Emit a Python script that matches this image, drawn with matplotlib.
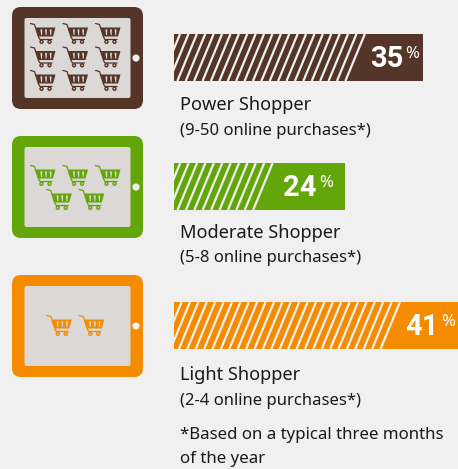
import matplotlib
matplotlib.use("Agg")
import matplotlib.pyplot as plt
from matplotlib.patches import FancyBboxPatch, Circle, Polygon

# data
names = ["Power Shopper", "Moderate Shopper", "Light Shopper"]
ranges = ["(9-50 online purchases*)", "(5-8 online purchases*)", "(2-4 online purchases*)"]
shares = [35, 24, 41]
cart_rows = [[3, 3, 3], [3, 2], [2]]
note = ["*Based on a typical three months", "of the year"]

colors = ["#543527", "#63A60A", "#F58B00"]
bg = "#F0F0F0"
screen = "#DBD8D5"
font = "Noto Sans"
bold_font = "Roboto"

fig = plt.figure(figsize=(4.58, 4.69), dpi=100, facecolor=bg)
ax = fig.add_axes([0, 0, 1, 1])
ax.set_xlim(0, 458)
ax.set_ylim(469, 0)
ax.axis("off")

bar_left = 174
px_per_pct = 7.11
bar_tops = [34, 163, 302]
bar_h = 47
solid_w = [58, 72, 65.5]
num_right = [403, 317, 439]
tablet_tops = [7, 136, 275]
name_y = [110, 237.5, 380]
range_y = [135, 262.5, 405]
row_y = [[33, 56.5, 80], [175, 199], [325]]


def draw_cart(cx, cy, c):
    # handle + frame
    ax.plot([cx - 12.5, cx - 8.5, cx - 4.5, cx - 3, cx + 9],
            [cy - 9.5, cy - 8.5, cy + 4, cy + 6.5, cy + 6.5], color=c, lw=0.9, solid_capstyle="round")
    ax.add_patch(Polygon([[cx - 7.5, cy - 5.5], [cx + 12.5, cy - 5.5], [cx + 10, cy + 3.5], [cx - 4.5, cy + 3.5]],
                         closed=True, fc=c, ec="none"))
    for k in range(3):
        sx = cx - 2.6 + k * 4.6
        ax.add_patch(Polygon([[sx, cy - 3.6], [sx + 1.9, cy - 3.6], [sx + 1.6, cy + 2.2], [sx + 0.7, cy + 2.2]],
                             closed=True, fc=screen, ec="none"))
    for wx in [cx - 1.5, cx + 6.5]:
        ax.add_patch(Circle((wx, cy + 8.8), 1.5, fc=screen, ec=c, lw=1.0))


for i in range(3):
    c = colors[i]
    top = tablet_tops[i]
    # tablet body and screen
    ax.add_patch(FancyBboxPatch((16, top + 4), 123, 94, boxstyle="round,pad=4,rounding_size=9", fc=c, ec="none"))
    ax.add_patch(FancyBboxPatch((25.5, top + 12), 104, 78, boxstyle="round,pad=1,rounding_size=2", fc=screen, ec="none"))
    ax.add_patch(Circle((136, top + 51), 3.6, fc=bg, ec="none"))

    # carts, one row after the other, centred on the screen
    for row, cy in zip(cart_rows[i], row_y[i]):
        for k in range(row):
            draw_cart(76 + (k - (row - 1) / 2) * 32.5 - 0.5, cy, c)

    # bar
    b = ax.barh(bar_tops[i], shares[i] * px_per_pct, height=bar_h, left=bar_left, align="edge", color=c)[0]
    bar_right = bar_left + shares[i] * px_per_pct
    stripe_end = bar_right - solid_w[i]
    x = stripe_end
    while x > bar_left:
        ln, = ax.plot([x, x - 19.5], [bar_tops[i], bar_tops[i] + bar_h], color=bg, lw=1.6, solid_capstyle="butt")
        ln.set_clip_path(b)
        x -= 8.4

    # value
    ax.text(num_right[i], bar_tops[i] + 33, str(shares[i]), color="white", fontsize=21, fontweight="bold",
            family=bold_font, ha="right", va="baseline")
    ax.text(num_right[i] + 2, bar_tops[i] + 24, "%", color="white", fontsize=12, family=font,
            ha="left", va="baseline")

    # labels
    ax.text(180, name_y[i], names[i], color="#1A1A1A", fontsize=13.15, family=font, va="baseline")
    ax.text(180, range_y[i], ranges[i], color="#1A1A1A", fontsize=12, family=font, va="baseline")

ax.text(180, 439, note[0], color="#1A1A1A", fontsize=12.15, family=font, va="baseline")
ax.text(180, 463, note[1], color="#1A1A1A", fontsize=12.15, family=font, va="baseline")

fig.savefig("out.png", dpi=100, facecolor=bg)
